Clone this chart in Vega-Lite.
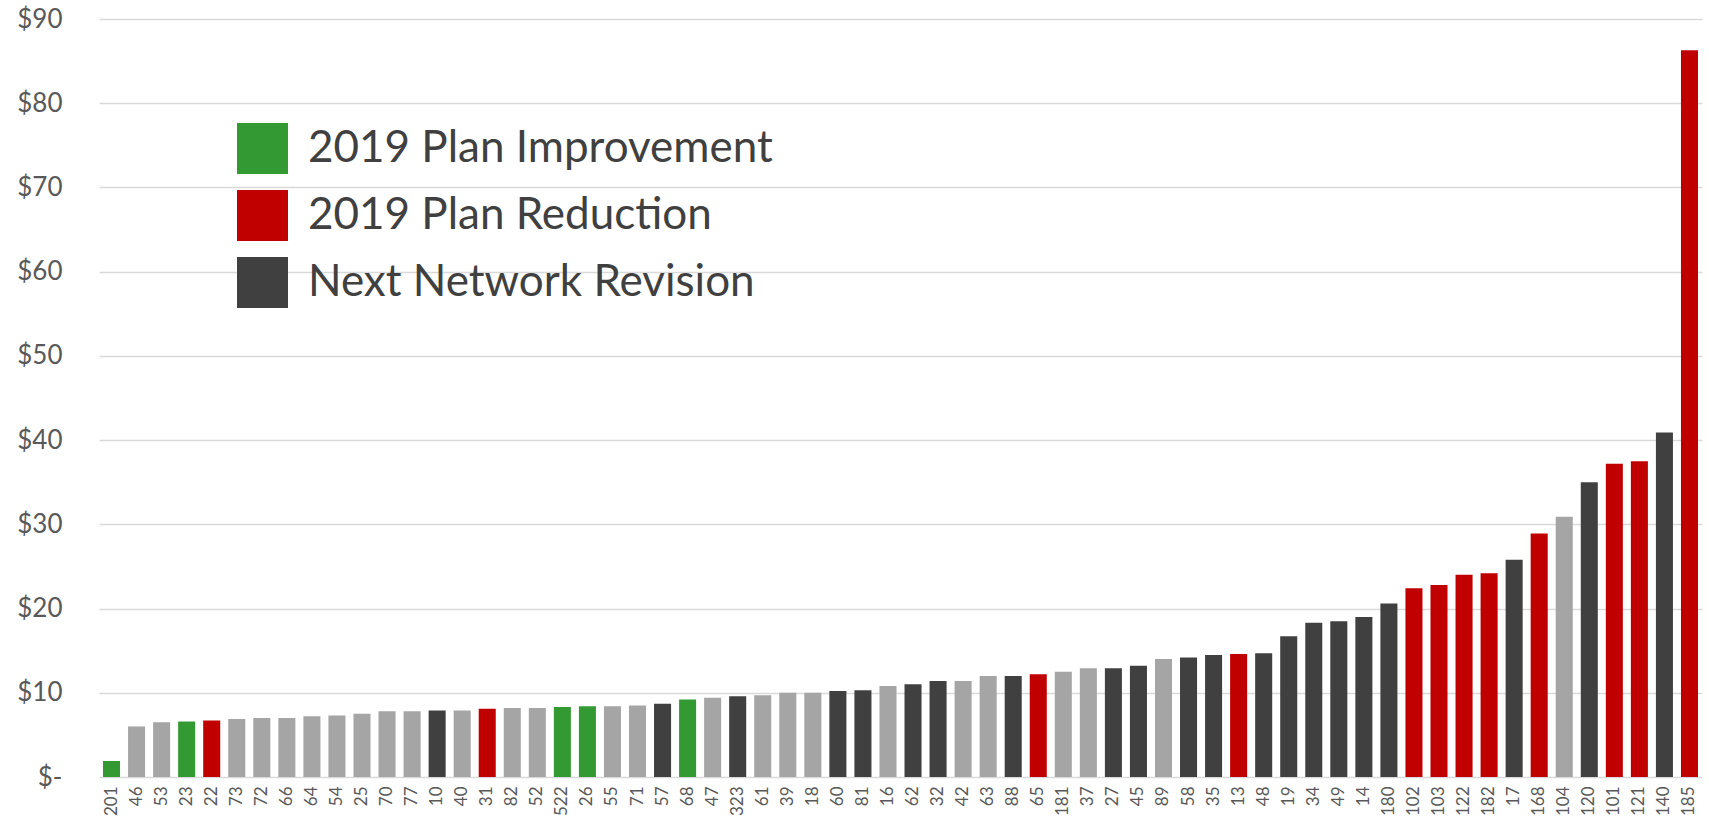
{
  "$schema": "https://vega.github.io/schema/vega-lite/v6.json",
  "width": 1603,
  "height": 758,
  "autosize": "none",
  "padding": {"left": 99, "top": 19, "right": 7, "bottom": 45},
  "background": "white",
  "config": {"view": {"stroke": null}, "font": "Lato"},
  "data": {"values": [
    {"route": "201", "cost": 1.9, "type": "2019 Plan Improvement"},
    {"route": "46", "cost": 6.0, "type": "Other"},
    {"route": "53", "cost": 6.5, "type": "Other"},
    {"route": "23", "cost": 6.6, "type": "2019 Plan Improvement"},
    {"route": "22", "cost": 6.7, "type": "2019 Plan Reduction"},
    {"route": "73", "cost": 6.9, "type": "Other"},
    {"route": "72", "cost": 7.0, "type": "Other"},
    {"route": "66", "cost": 7.0, "type": "Other"},
    {"route": "64", "cost": 7.2, "type": "Other"},
    {"route": "54", "cost": 7.3, "type": "Other"},
    {"route": "25", "cost": 7.5, "type": "Other"},
    {"route": "70", "cost": 7.8, "type": "Other"},
    {"route": "77", "cost": 7.8, "type": "Other"},
    {"route": "10", "cost": 7.9, "type": "Next Network Revision"},
    {"route": "40", "cost": 7.9, "type": "Other"},
    {"route": "31", "cost": 8.1, "type": "2019 Plan Reduction"},
    {"route": "82", "cost": 8.2, "type": "Other"},
    {"route": "52", "cost": 8.2, "type": "Other"},
    {"route": "522", "cost": 8.3, "type": "2019 Plan Improvement"},
    {"route": "26", "cost": 8.4, "type": "2019 Plan Improvement"},
    {"route": "55", "cost": 8.4, "type": "Other"},
    {"route": "71", "cost": 8.5, "type": "Other"},
    {"route": "57", "cost": 8.7, "type": "Next Network Revision"},
    {"route": "68", "cost": 9.2, "type": "2019 Plan Improvement"},
    {"route": "47", "cost": 9.4, "type": "Other"},
    {"route": "323", "cost": 9.6, "type": "Next Network Revision"},
    {"route": "61", "cost": 9.7, "type": "Other"},
    {"route": "39", "cost": 10.0, "type": "Other"},
    {"route": "18", "cost": 10.0, "type": "Other"},
    {"route": "60", "cost": 10.2, "type": "Next Network Revision"},
    {"route": "81", "cost": 10.3, "type": "Next Network Revision"},
    {"route": "16", "cost": 10.8, "type": "Other"},
    {"route": "62", "cost": 11.0, "type": "Next Network Revision"},
    {"route": "32", "cost": 11.4, "type": "Next Network Revision"},
    {"route": "42", "cost": 11.4, "type": "Other"},
    {"route": "63", "cost": 12.0, "type": "Other"},
    {"route": "88", "cost": 12.0, "type": "Next Network Revision"},
    {"route": "65", "cost": 12.2, "type": "2019 Plan Reduction"},
    {"route": "181", "cost": 12.5, "type": "Other"},
    {"route": "37", "cost": 12.9, "type": "Other"},
    {"route": "27", "cost": 12.9, "type": "Next Network Revision"},
    {"route": "45", "cost": 13.2, "type": "Next Network Revision"},
    {"route": "89", "cost": 14.0, "type": "Other"},
    {"route": "58", "cost": 14.2, "type": "Next Network Revision"},
    {"route": "35", "cost": 14.5, "type": "Next Network Revision"},
    {"route": "13", "cost": 14.6, "type": "2019 Plan Reduction"},
    {"route": "48", "cost": 14.7, "type": "Next Network Revision"},
    {"route": "19", "cost": 16.7, "type": "Next Network Revision"},
    {"route": "34", "cost": 18.3, "type": "Next Network Revision"},
    {"route": "49", "cost": 18.5, "type": "Next Network Revision"},
    {"route": "14", "cost": 19.0, "type": "Next Network Revision"},
    {"route": "180", "cost": 20.6, "type": "Next Network Revision"},
    {"route": "102", "cost": 22.4, "type": "2019 Plan Reduction"},
    {"route": "103", "cost": 22.8, "type": "2019 Plan Reduction"},
    {"route": "122", "cost": 24.0, "type": "2019 Plan Reduction"},
    {"route": "182", "cost": 24.2, "type": "2019 Plan Reduction"},
    {"route": "17", "cost": 25.8, "type": "Next Network Revision"},
    {"route": "168", "cost": 28.9, "type": "2019 Plan Reduction"},
    {"route": "104", "cost": 30.9, "type": "Other"},
    {"route": "120", "cost": 35.0, "type": "Next Network Revision"},
    {"route": "101", "cost": 37.2, "type": "2019 Plan Reduction"},
    {"route": "121", "cost": 37.5, "type": "2019 Plan Reduction"},
    {"route": "140", "cost": 40.9, "type": "Next Network Revision"},
    {"route": "185", "cost": 86.3, "type": "2019 Plan Reduction"}
  ]},
  "mark": {"type": "bar"},
  "encoding": {
    "x": {
      "field": "route", "type": "nominal", "sort": null,
      "scale": {"paddingInner": 0.32, "paddingOuter": 0.16},
      "axis": {"title": null, "labelAngle": -90, "labelFontSize": 17, "labelColor": "#595959", "ticks": false, "domain": false, "labelPadding": 9, "grid": false}
    },
    "y": {
      "field": "cost", "type": "quantitative",
      "scale": {"domain": [0, 90]},
      "axis": {"title": null, "values": [0, 10, 20, 30, 40, 50, 60, 70, 80, 90], "labelExpr": "datum.value == 0 ? '$-' : '$' + datum.value", "labelFontSize": 26, "labelColor": "#595959", "ticks": false, "domain": false, "labelPadding": 37, "gridColor": "#D9D9D9", "gridWidth": 1.3}
    },
    "color": {
      "field": "type", "type": "nominal",
      "scale": {"domain": ["2019 Plan Improvement", "2019 Plan Reduction", "Next Network Revision", "Other"], "range": ["#339933", "#C00000", "#404040", "#A5A5A5"]},
      "legend": {"title": null, "values": ["2019 Plan Improvement", "2019 Plan Reduction", "Next Network Revision"], "orient": "none", "legendX": 138, "legendY": 104, "padding": 0, "symbolType": "square", "symbolSize": 2601, "symbolStrokeWidth": 0, "symbolOpacity": 1, "rowPadding": 16, "labelFontSize": 44, "labelColor": "#404040", "labelOffset": 20, "labelLimit": 800}
    }
  }
}
